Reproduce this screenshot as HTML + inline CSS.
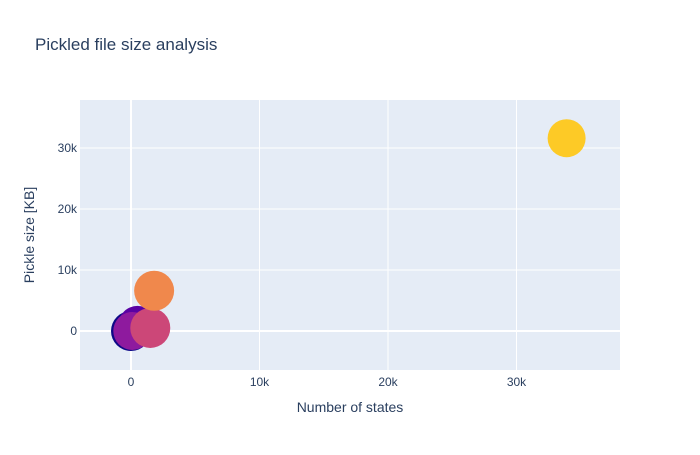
<!DOCTYPE html>
<html><head><meta charset="utf-8"><style>
body{margin:0;background:#fff;font-family:"Liberation Sans",sans-serif}
</style></head><body>
<svg id="chart" width="700" height="450" xmlns="http://www.w3.org/2000/svg">
<rect x="0" y="0" width="700" height="450" fill="#fff"/>
<text x="35" y="50" font-size="17" fill="#2a3f5f">Pickled file size analysis</text>
<rect x="80" y="100" width="540" height="270" fill="#e5ecf6"/>
<g id="grid"></g><g id="marks"></g><g id="ticks"></g>
<text x="350" y="412" font-size="14" fill="#2a3f5f" text-anchor="middle">Number of states</text>
<text transform="translate(34,235) rotate(-90)" font-size="14" fill="#2a3f5f" text-anchor="middle">Pickle size [KB]</text>
</svg>
<script>
const xs=[0,500,100,1500,1800,33900];
const ys=[0,1000,0,500,6600,31600];
const radii=[20,19,19,20,20,19];
const colors=["#0d0887","#5a02a3","#8e1a9e","#cc4778","#f0884c","#fdca26"];
const xTicks=[0,10000,20000,30000];
const xTickLabels=["0","10k","20k","30k"];
const yTicks=[0,10000,20000,30000];
const yTickLabels=["0","10k","20k","30k"];
const X=v=>131+(v)*0.012850;
const Y=v=>331-(v)*0.0061;
const ns="http://www.w3.org/2000/svg";
const g=document.getElementById('grid'),m=document.getElementById('marks'),t=document.getElementById('ticks');
function el(n,a,p){const e=document.createElementNS(ns,n);for(const k in a)e.setAttribute(k,a[k]);p.appendChild(e);return e;}
xTicks.forEach((v,i)=>{
 const l=el('line',{x1:X(v),x2:X(v),y1:100,y2:370,stroke:'#fff','stroke-width':v===0?2:1},g);
 
 
 const tx=el('text',{x:X(v),y:386,'font-size':12,fill:'#2a3f5f','text-anchor':'middle'},t);
 tx.textContent=xTickLabels[i];
 
 
});
yTicks.forEach((v,i)=>{
 const l=el('line',{x1:80,x2:620,y1:Y(v),y2:Y(v),stroke:'#fff','stroke-width':v===0?2:1},g);
 
 
 const tx=el('text',{x:79-0,y:Y(v)+4,'font-size':12,fill:'#2a3f5f','text-anchor':'end'},t);
 tx.setAttribute('x',77);
 tx.textContent=yTickLabels[i];
 
 
});
xs.forEach((v,i)=>{
 const c=el('circle',{cx:X(v),cy:Y(ys[i]),r:radii[i],fill:colors[i]},m);
 
 
});
</script>
</body></html>
